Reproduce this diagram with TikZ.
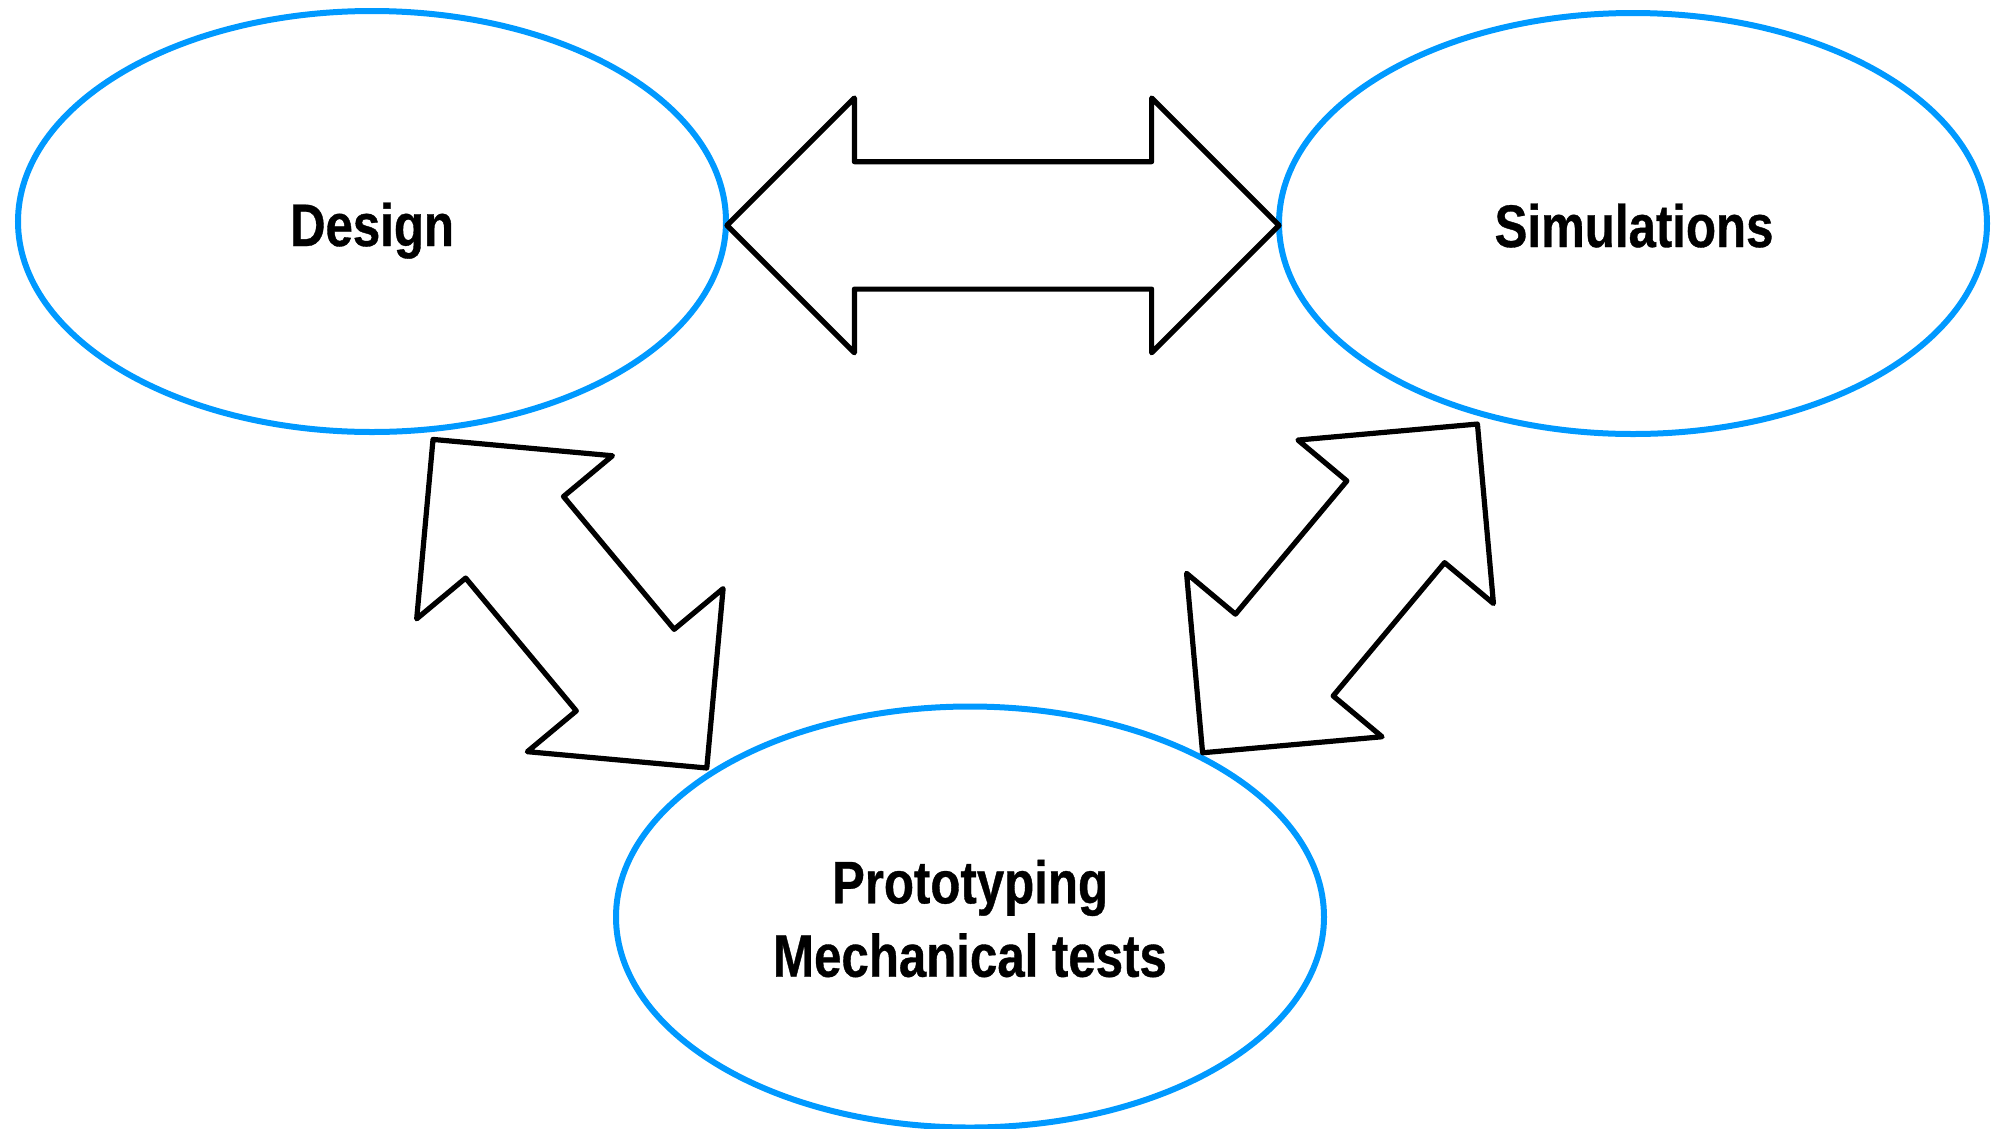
\documentclass[tikz,border=0pt]{standalone}
\usepackage{fontspec}
\usetikzlibrary{shapes.geometric}
\newfontfamily\narrowfont[FakeStretch=0.82, BoldFeatures={FakeBold=0.6}]{Liberation Sans}
\definecolor{ellblue}{RGB}{0,153,255}
\tikzset{
  phase/.style={draw=ellblue, line width=6pt, ellipse, minimum width=708pt, minimum height=421pt, inner sep=0pt},
  blockarrow/.style={draw=black, line width=5.2pt, line join=round},
  lbl/.style={font=\narrowfont\bfseries\fontsize{60}{72}\selectfont, inner sep=0pt, anchor=base},
}
\newcommand\dblarrowpath[1]{%
  \draw[blockarrow] ({-#1/2},0) -- ({-#1/2+127.4},127.4) -- ({-#1/2+127.4},63.7)
    -- ({#1/2-127.4},63.7) -- ({#1/2-127.4},127.4) -- ({#1/2},0)
    -- ({#1/2-127.4},-127.4) -- ({#1/2-127.4},-63.7) -- ({-#1/2+127.4},-63.7)
    -- ({-#1/2+127.4},-127.4) -- cycle;}
\begin{document}
\begin{tikzpicture}[x=1pt,y=-1pt]
  \useasboundingbox (0,0) rectangle (1997,1128);
  % ellipses
  \node[phase] (designE) at (372,221.5) {};
  \node[phase] (simE) at (1633,223.5) {};
  \node[phase] (protoE) at (970,917) {};
  % labels
  \node[lbl] (design) at (372,246) {Design};
  \node[lbl] (sim) at (1634,247) {Simulations};
  \node[lbl] (proto1) at (970,903.3) {Prototyping};
  \node[lbl] (proto2) at (970,976.7) {Mechanical tests};
  % block arrows
  \begin{scope}[shift={(1003,225.4)}]
    \dblarrowpath{552}
  \end{scope}
  \begin{scope}[shift={(569.9,603.7)}, rotate=-50.2]
    \dblarrowpath{427.7}
  \end{scope}
  \begin{scope}[shift={(1340,588.4)}, rotate=50.1]
    \dblarrowpath{428.5}
  \end{scope}
\end{tikzpicture}
\end{document}
